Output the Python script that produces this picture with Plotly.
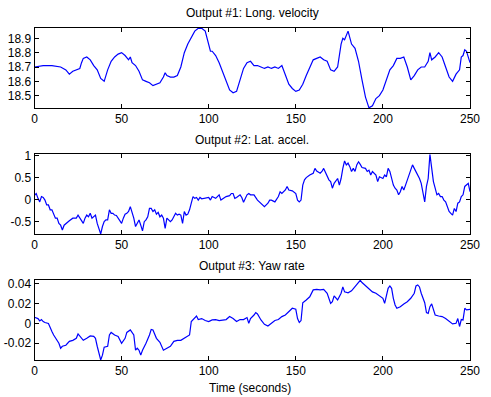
import plotly.graph_objects as go

# ---------------- data ----------------
t1 = [0,5,10,15,18,20,22,24,26,27,28,30,32,34,36,38,40,42,44,46,48,50,52,54,55,56,58,60,62,64,66,68,70,72,74,75,76,78,80,82,84,86,88,90,92,94,96,98,100,101,102,104,106,108,110,112,114,116,118,120,122,124,126,128,130,132,134,136,138,140,142,144,146,148,150,152,154,156,158,160,162,164,166,168,170,172,174,176,177,178,180,182,184,186,188,190,192,194,196,198,200,202,204,206,208,210,212,214,216,218,220,222,224,226,227,228,230,232,234,236,238,240,242,244,245,246,247,248,250]
v1 = [18.70,18.71,18.71,18.70,18.68,18.65,18.67,18.68,18.69,18.73,18.76,18.77,18.75,18.71,18.68,18.62,18.60,18.68,18.74,18.77,18.79,18.80,18.78,18.75,18.77,18.73,18.71,18.67,18.61,18.60,18.59,18.57,18.58,18.59,18.63,18.66,18.64,18.63,18.63,18.64,18.70,18.80,18.86,18.91,18.95,18.97,18.97,18.95,18.86,18.81,18.81,18.78,18.73,18.67,18.61,18.54,18.52,18.53,18.61,18.69,18.73,18.74,18.71,18.71,18.70,18.69,18.70,18.69,18.70,18.69,18.71,18.64,18.58,18.55,18.53,18.54,18.58,18.64,18.70,18.75,18.76,18.77,18.75,18.74,18.68,18.67,18.70,18.86,18.90,18.89,18.95,18.86,18.83,18.74,18.61,18.49,18.415,18.43,18.48,18.50,18.54,18.61,18.68,18.71,18.76,18.76,18.77,18.70,18.61,18.64,18.68,18.70,18.70,18.74,18.80,18.75,18.77,18.80,18.77,18.70,18.63,18.60,18.65,18.68,18.77,18.78,18.82,18.81,18.73]

t2 = [0,1,2,3,4,5,6,7,8,9,10,11,12,13,14,15,16,17,18,19,20,22,24,25,26,27,28,29,30,31,32,33,34,35,36,37,38,39,40,41,42,43,44,45,46,47,48,49,50,51,52,53,54,55,56,57,58,59,60,61,62,63,64,65,66,67,68,69,70,71,72,73,74,75,76,77,78,79,80,81,82,83,84,85,86,87,88,89,90,91,92,93,94,95,96,98,100,101,102,104,106,107,108,110,112,113,114,115,116,118,119,120,122,123,124,126,128,130,132,134,135,136,138,140,141,142,144,145,146,148,150,151,152,153,154,155,156,158,160,161,162,164,165,166,168,169,170,171,172,174,175,176,177,178,179,180,181,182,183,184,185,186,187,188,190,191,192,193,194,196,197,198,200,201,202,203,204,205,206,207,208,209,210,211,212,213,214,215,216,217,218,219,220,221,222,223,224,225,226,227,228,229,230,231,232,233,234,235,236,237,238,239,240,241,242,243,244,245,246,247,248,249,250]
v2 = [0.10,0.14,0.03,-0.05,0.07,0.05,-0.01,-0.12,-0.12,-0.23,-0.23,-0.33,-0.42,-0.42,-0.54,-0.58,-0.69,-0.58,-0.54,-0.50,-0.48,-0.42,-0.42,-0.35,-0.42,-0.46,-0.54,-0.42,-0.35,-0.39,-0.31,-0.42,-0.39,-0.35,-0.54,-0.65,-0.78,-0.61,-0.50,-0.46,-0.46,-0.23,-0.31,-0.31,-0.35,-0.36,-0.42,-0.50,-0.54,-0.42,-0.33,-0.31,-0.27,-0.16,-0.27,-0.42,-0.61,-0.54,-0.46,-0.58,-0.71,-0.50,-0.46,-0.39,-0.20,-0.20,-0.27,-0.23,-0.33,-0.29,-0.39,-0.35,-0.42,-0.65,-0.42,-0.46,-0.50,-0.46,-0.39,-0.31,-0.35,-0.33,-0.35,-0.54,-0.27,-0.35,-0.33,-0.23,-0.08,0.07,0.03,0.05,-0.01,0.05,0.02,0.03,0.05,-0.01,0.07,0.03,0.11,-0.01,0.02,0.07,0.09,0.14,0.14,0.03,0.05,0.11,0.05,-0.06,0.11,0.14,0.11,0.11,-0.01,-0.08,-0.16,-0.08,-0.01,-0.01,-0.05,0.07,0.18,0.14,0.22,0.30,0.22,0.20,0.14,-0.01,-0.05,-0.01,0.33,0.45,0.50,0.56,0.60,0.71,0.65,0.60,0.64,0.71,0.52,0.45,0.41,0.26,0.37,0.48,0.33,0.48,0.71,0.88,0.79,0.83,0.75,0.64,0.71,0.64,0.79,0.86,0.80,0.73,0.71,0.64,0.67,0.56,0.64,0.56,0.41,0.52,0.48,0.56,0.52,0.71,0.64,0.48,0.33,0.26,0.22,0.11,0.18,0.30,0.22,0.33,0.45,0.56,0.64,0.79,0.71,0.64,0.56,0.48,0.37,0.18,-0.05,0.30,0.48,1.03,0.64,0.41,0.26,0.11,0.14,0.07,0.07,-0.01,-0.05,-0.16,-0.27,-0.31,-0.35,-0.20,-0.27,-0.08,-0.05,0.07,0.11,0.30,0.33,0.37,0.18]

t3 = [0,2,3,4,5,6,8,9,10,11,12,14,15,16,18,20,22,24,25,26,28,30,32,34,35,36,37,38,39,40,42,43,44,46,48,50,52,53,55,57,58,59,60,61,62,63,64,66,67,68,69,70,72,74,76,78,80,82,84,86,88,89,90,91,92,93,94,96,98,100,102,104,106,108,110,112,114,116,118,120,122,123,124,126,127,128,130,132,134,136,138,140,142,144,146,148,150,151,152,153,154,155,156,158,160,162,164,166,168,170,171,172,174,176,177,178,180,182,184,186,187,188,190,192,194,196,198,200,201,202,203,204,205,206,207,208,210,212,214,216,218,219,220,221,222,224,225,226,227,228,229,230,232,234,236,238,240,242,243,244,245,246,247,248,250]
v3 = [0.0063,0.005,0.0026,0.004,0.002,0.001,0.000,-0.005,-0.008,-0.0116,-0.014,-0.020,-0.025,-0.023,-0.022,-0.018,-0.017,-0.015,-0.0106,-0.0126,-0.017,-0.015,-0.0126,-0.013,-0.015,-0.023,-0.030,-0.0368,-0.032,-0.024,-0.023,-0.0116,-0.009,-0.0116,-0.013,-0.020,-0.015,-0.009,-0.0065,-0.0116,-0.027,-0.025,-0.027,-0.032,-0.027,-0.024,-0.020,-0.0116,-0.006,-0.0065,-0.0116,-0.015,-0.019,-0.027,-0.025,-0.023,-0.018,-0.017,-0.017,-0.015,-0.013,-0.0116,0.002,0.0036,0.005,0.0076,0.004,0.005,0.003,0.002,0.0036,0.004,0.003,0.0036,0.004,0.007,0.005,0.002,0.004,0.004,0.006,0.0002,0.005,0.0086,0.011,0.0097,0.0036,-0.0008,-0.0025,0.0002,0.003,0.004,0.007,0.0086,0.012,0.0154,0.0144,0.005,0.001,0.003,0.021,0.022,0.0238,0.027,0.034,0.0346,0.034,0.0346,0.0306,0.0204,0.022,0.028,0.0238,0.0306,0.037,0.032,0.031,0.033,0.037,0.042,0.0437,0.0414,0.038,0.0346,0.032,0.0306,0.028,0.0255,0.0204,0.027,0.0356,0.038,0.0356,0.0255,0.0188,0.0154,0.017,0.0198,0.022,0.0255,0.0306,0.038,0.039,0.037,0.0306,0.021,0.011,0.0103,0.017,0.0198,0.0137,0.0086,0.0076,0.007,0.005,0.002,-0.0004,0.0002,0.005,-0.003,0.004,0.0036,0.0154,0.0137,0.0144]

titles = ["Output #1: Long. velocity", "Output #2: Lat. accel.", "Output #3: Yaw rate"]
x_label = "Time (seconds)"
x_ticks = [0, 50, 100, 150, 200, 250]
y1_ticks = [18.5, 18.6, 18.7, 18.8, 18.9]
y1_text = ["18.5", "18.6", "18.7", "18.8", "18.9"]
y2_ticks = [-0.5, 0, 0.5, 1]
y2_text = ["-0.5", "0", "0.5", "1"]
y3_ticks = [-0.02, 0, 0.02, 0.04]
y3_text = ["-0.02", "0", "0.02", "0.04"]

# ---------------- figure ----------------
W, H = 491, 397
fig = go.Figure()
BLUE = "#0000ff"
series = [(t1, v1, "x", "y"), (t2, v2, "x2", "y2"), (t3, v3, "x3", "y3")]
for t, v, xa, ya in series:
    fig.add_trace(go.Scatter(x=t, y=v, mode="lines", xaxis=xa, yaxis=ya,
                             line=dict(color=BLUE, width=1.2), showlegend=False,
                             hoverinfo="skip"))

x0, x1 = 34.5 / W, 470 / W
doms = [(28, 108), (154.3, 234), (280, 360)]
yr = [[18.414, 18.972], [-0.78, 1.03], [-0.0369, 0.044]]
yt = [(y1_ticks, y1_text), (y2_ticks, y2_text), (y3_ticks, y3_text)]
font = dict(family="Liberation Sans, Arial, sans-serif", size=12, color="black")

common = dict(showline=True, linecolor="black", linewidth=1, mirror="allticks",
              ticks="inside", ticklen=4, tickcolor="black", showgrid=False,
              zeroline=False, tickfont=font, automargin=False)
lay = {}
for i in range(3):
    sx = "xaxis" if i == 0 else f"xaxis{i+1}"
    sy = "yaxis" if i == 0 else f"yaxis{i+1}"
    top, bot = doms[i]
    lay[sx] = dict(domain=[x0, x1], range=[0, 250], tickvals=x_ticks,
                   ticktext=[str(v) for v in x_ticks],
                   anchor="y" if i == 0 else f"y{i+1}", **common)
    lay[sy] = dict(domain=[1 - bot / H, 1 - top / H], range=yr[i],
                   tickvals=yt[i][0], ticktext=yt[i][1],
                   anchor="x" if i == 0 else f"x{i+1}", **common)
fig.update_layout(**lay)

cx = (34.5 + 470) / 2 / W
ann = []
for ttl, py in zip(titles, [13, 140, 266]):
    ann.append(dict(text=ttl, x=cx, y=1 - py / H, xref="paper", yref="paper",
                    showarrow=False, xanchor="center", yanchor="middle", font=font))
ann.append(dict(text=x_label, x=250 / W, y=1 - 388 / H, xref="paper", yref="paper",
                showarrow=False, xanchor="center", yanchor="middle", font=font))
fig.update_layout(annotations=ann, width=W, height=H,
                  margin=dict(l=0, r=0, t=0, b=0, autoexpand=False),
                  paper_bgcolor="white", plot_bgcolor="white")

fig.write_html("out.html", config={"displayModeBar": False},
               post_script="document.body.style.margin='0';document.body.style.overflow='hidden';")
